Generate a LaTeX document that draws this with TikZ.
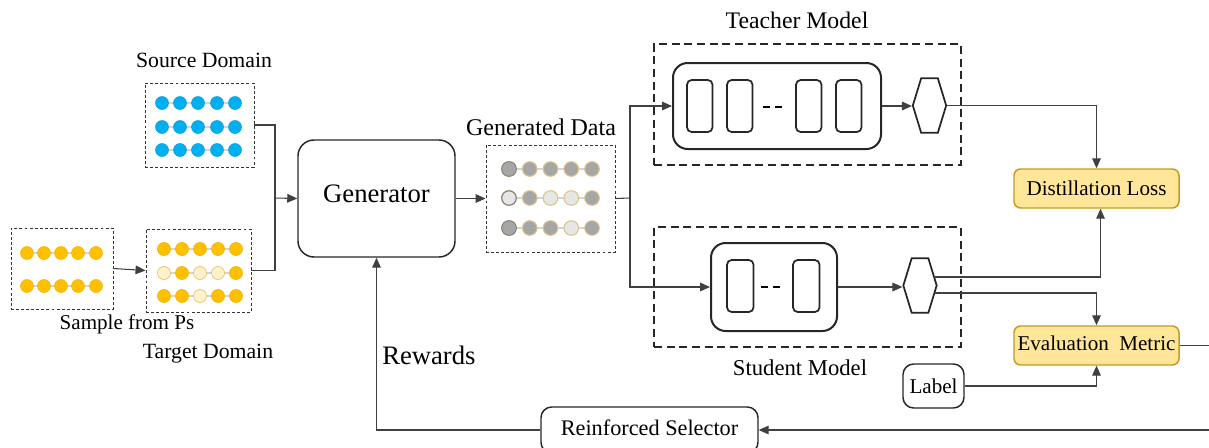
\documentclass[tikz,border=0pt]{standalone}
\usepackage{fontspec}
\setmainfont{Liberation Serif}
\usetikzlibrary{arrows.meta,fit,shapes.symbols}
\definecolor{fc}{HTML}{00B0F0}
\definecolor{bc}{HTML}{0A9CD6}
\definecolor{fo}{HTML}{FFC000}
\definecolor{bo}{HTML}{F0B400}
\definecolor{fl}{HTML}{FFF2CC}
\definecolor{bl}{HTML}{E8BE5A}
\definecolor{fd}{HTML}{A6A6A6}
\definecolor{fe}{HTML}{E7E6E6}
\definecolor{tan}{HTML}{DCC38A}
\definecolor{gridgray}{HTML}{D4D4D4}
\definecolor{linegray}{HTML}{404040}
\definecolor{goldfill}{HTML}{FFE699}
\definecolor{golddraw}{HTML}{C59A1F}
\newcommand{\fs}[1]{\fontsize{#1}{#1}\selectfont}

\begin{document}
\begin{tikzpicture}[x=0.75pt,y=-0.75pt,
    conn/.style={draw=linegray,line width=0.8pt},
    arr/.style={conn,-{Triangle[length=7.5pt,width=6.5pt]}},
    smalldash/.style={draw=black!80,line width=0.7pt,dash pattern=on 2.2pt off 1.6pt,inner sep=0pt},
    modeldash/.style={draw=black!85,line width=1.4pt,dash pattern=on 6pt off 3.5pt,inner sep=0pt},
    rbox/.style={draw=black!85,line width=1.1pt,rounded corners=12pt,inner sep=0pt},
    inbox/.style={draw=black!85,line width=1.5pt,rounded corners=11pt,inner sep=0pt},
    layer/.style={draw=black!85,line width=1.3pt,rounded corners=3.5pt},
    gold/.style={draw=golddraw,fill=goldfill,line width=1.1pt,rounded corners=5pt,inner sep=0pt},
    small/.style={draw=black!85,line width=1.1pt,rounded corners=8pt,inner sep=0pt},
    hexa/.style={draw=black!85,line width=1.3pt,signal,signal to=east and west,signal pointer angle=146,
      minimum width=25pt,minimum height=41pt,inner sep=0pt},
    grid/.style={draw=gridgray,line width=0.9pt}]
\useasboundingbox (0,0) rectangle (1209,447);

% labels
\node[font=\fs{16.3}] (srclab) at (204,60) {Source Domain};
\node[font=\fs{15.8}] (smplab) at (127,324) {Sample from Ps};
\node[font=\fs{16.3}] (tgtlab) at (208,354) {Target Domain};
\node[font=\fs{18}] (gdlab) at (541,127) {Generated Data};
\node[font=\fs{17.8}] (tlab) at (797,20) {Teacher Model};
\node[font=\fs{17}] (slab) at (800,368) {Student Model};
\node[font=\fs{20},anchor=west,inner sep=0pt] (rew) at (382,355) {Rewards};

% source domain
\node[smalldash,fit={(145,83) (254,167)}] (src) {};
\foreach \y in {103,127,150} {
  \draw[grid] (162,\y) -- (235,\y);
  \foreach \x in {162,180,198,217,235}
    \filldraw[fill=fc,draw=bc,line width=0.4pt] (\x,\y) circle[radius=6.5];
}

% sample from Ps
\node[smalldash,fit={(11,228) (113,309)}] (smp) {};
\foreach \y in {253,286} {
  \draw[grid] (27,\y) -- (96,\y);
  \foreach \x in {27,44,61,78,96}
    \filldraw[fill=fo,draw=bo,line width=0.4pt] (\x,\y) circle[radius=6.5];
}

% target domain
\node[smalldash,fit={(146,229) (251,312)}] (tgt) {};
\foreach \y/\pat in {249/{o,o,o,o,o},273/{l,o,l,l,o},296/{o,o,l,o,o}} {
  \draw[grid] (164,\y) -- (236,\y);
  \foreach \s [count=\i] in \pat
    \filldraw[fill=f\s,draw=b\s,line width=0.5pt] (146+18*\i,\y) circle[radius=6.5];
}

% generator
\node[rbox,fit={(298,140) (455,257)},label={[font=\fs{20},yshift=3.5pt]center:Generator}] (gen) {};

% generated data
\node[smalldash,fit={(486,145) (615,252)}] (gd) {};
\foreach \y/\pat in {169/{d,d,d,d,d},198/{e,d,e,e,d},228/{d,d,d,e,d}} {
  \draw[grid] (509,\y) -- (592,\y);
  \foreach \s [count=\i] in \pat
    \filldraw[fill=f\s,draw=tan,line width=0.8pt] (488.25+20.75*\i,\y) circle[radius=7.3];
  \draw[draw=black!50,line width=0.8pt] (509,\y) circle[radius=7.3];
}

% teacher model
\node[modeldash,fit={(654,44) (961,165)}] (tbox) {};
\node[inbox,fit={(673,63) (881,149)}] (tinner) {};
\foreach \x in {687,727,796,836}
  \draw[layer] (\x,80) rectangle (\x+25.5,132);
\draw[line width=1.4pt,dash pattern=on 5pt off 4pt] (763,107) -- (785,107);
\node[hexa] (thex) at (929.5,105.5) {};

% student model
\node[modeldash,fit={(654,227) (961,347)}] (sbox) {};
\node[inbox,fit={(711,243) (837,331)}] (sinner) {};
\foreach \x in {727,793}
  \draw[layer] (\x,260) rectangle (\x+26.5,312);
\draw[line width=1.4pt,dash pattern=on 5pt off 4pt] (761,287) -- (783,287);
\node[hexa] (shex) at (920,285.5) {};

% loss and metric
\node[gold,fit={(1014,169) (1179,208)},label={[font=\fs{15.8}]center:Distillation Loss}] (dl) {};
\node[gold,fit={(1014,326) (1179,365)},label={[font=\fs{15.8},yshift=1.5pt]center:Evaluation\ \ Metric}] (em) {};
\node[small,fit={(903,364) (964,408)},label={[font=\fs{15.8}]center:Label}] (lab) {};
\node[small,fit={(541,407) (758,453)},label={[font=\fs{16.7},yshift=1.5pt]center:Reinforced Selector}] (rs) {};

% connectors
\coordinate (jn) at (275,198);
\coordinate (split) at (630,198);
\coordinate (su) at (934,277);
\coordinate (sl) at (934,293);
\coordinate (re) at (1215,430);
\draw[arr] (smp.east) -- (tgt.west);
\draw[conn] (src.east) -| (jn);
\draw[conn] (tgt.east) -| (jn);
\draw[arr] (jn) -- (gen.west);
\draw[arr] (gen.east) -- (gd.west);
\draw[conn] (gd.east) -- (split);
\draw[arr] (split) |- (tinner.west);
\draw[arr] (split) |- (sinner.west);
\draw[arr] (tinner.east) -- (tinner.east -| thex.west);
\draw[arr] (sinner.east) -- (sinner.east -| shex.west);
\draw[arr] (thex.east) -| (dl.north);
\draw[arr] (su) -| ([xshift=3pt]dl.south);
\draw[arr] (sl) -| (em.north);
\draw[arr] (lab.east) -| (em.south);
\draw[arr] (em.east) -| (re) -- (rs.east);
\draw[arr] (rs.west) -| (gen.south);
\end{tikzpicture}
\end{document}
